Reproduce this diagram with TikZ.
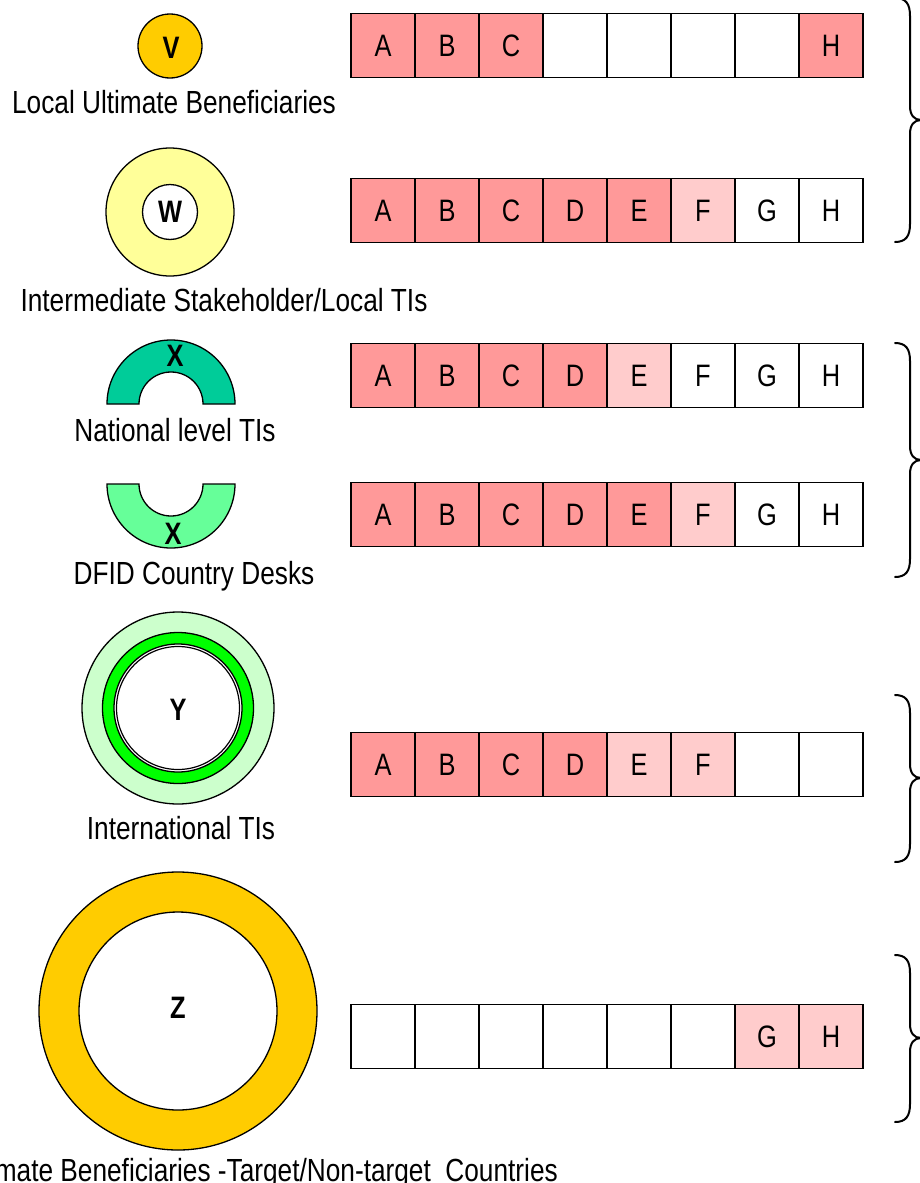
\documentclass[tikz,border=0pt]{standalone}
\usepackage{fontspec}
\setmainfont{Liberation Sans}[FakeStretch=0.82]
\definecolor{cd}{HTML}{FF9999}
\definecolor{cl}{HTML}{FFCCCC}
\definecolor{cw}{HTML}{FFFFFF}
\definecolor{gold}{HTML}{FFCC00}
\definecolor{lyellow}{HTML}{FFFF99}
\definecolor{teal}{HTML}{00CC99}
\definecolor{mint}{HTML}{66FF99}
\definecolor{lgreen}{HTML}{CCFFCC}
\definecolor{bgreen}{HTML}{00FF00}
\newcommand\mybrace[3]{%
  \draw[brc] (895,#1) .. controls (906,#1) and (910,#1+6) .. (910,#1+18)
    -- (910,#2-14) .. controls (910,#2-5) and (914,#2) .. (921,#2)
    .. controls (914,#2) and (910,#2+5) .. (910,#2+14)
    -- (910,#3-18) .. controls (910,#3-6) and (906,#3) .. (895,#3);}
\begin{document}
\begin{tikzpicture}[x=1pt,y=-1pt,
  cell/.style={draw=black, line width=1.6pt, minimum width=64pt, minimum height=64pt, inner sep=0pt, font=\fontsize{31}{36}\selectfont},
  lbl/.style={inner sep=0pt, anchor=base, font=\fontsize{32}{38}\selectfont},
  big/.style={inner sep=0pt, font=\fontsize{31}{36}\selectfont\bfseries},
  ring/.style={draw=black, line width=1.3pt},
  brc/.style={draw=black, line width=2pt, line cap=round}]
\useasboundingbox (0,0) rectangle (920,1183);
\clip (0,0) rectangle (920,1183);

% ---- rows of cells ----
\foreach \f/\t [count=\i] in {d/A,d/B,d/C,w/{},w/{},w/{},w/{},d/H}
  \node[cell, fill=c\f] (r1c\i) at (319+64*\i, 45.5) {\t};
\foreach \f/\t [count=\i] in {d/A,d/B,d/C,d/D,d/E,l/F,w/G,w/H}
  \node[cell, fill=c\f] (r2c\i) at (319+64*\i, 210.5) {\t};
\foreach \f/\t [count=\i] in {d/A,d/B,d/C,d/D,l/E,w/F,w/G,w/H}
  \node[cell, fill=c\f] (r3c\i) at (319+64*\i, 375.5) {\t};
\foreach \f/\t [count=\i] in {d/A,d/B,d/C,d/D,d/E,l/F,w/G,w/H}
  \node[cell, fill=c\f] (r4c\i) at (319+64*\i, 514.5) {\t};
\foreach \f/\t [count=\i] in {d/A,d/B,d/C,d/D,l/E,l/F,w/{},w/{}}
  \node[cell, fill=c\f] (r5c\i) at (319+64*\i, 764.5) {\t};
\foreach \f/\t [count=\i] in {w/{},w/{},w/{},w/{},w/{},w/{},l/G,l/H}
  \node[cell, fill=c\f] (r6c\i) at (319+64*\i, 1036.5) {\t};

% ---- braces ----
\mybrace{-2}{120}{242}
\mybrace{343}{460}{577}
\mybrace{695}{778}{862}
\mybrace{955}{1038}{1122}

% ---- V ----
\node[circle, ring, fill=gold, minimum size=64pt] (V) at (170,46) {};
\node[big] (Vt) at (171,48) {V};
\node[lbl] (lv) at (174,113) {Local Ultimate Beneficiaries};

% ---- W ----
\node[circle, ring, fill=lyellow, minimum size=128pt] (Wo) at (170,212) {};
\node[circle, ring, fill=white, minimum size=55pt] (W) at (170,212) {};
\node[big] (Wt) at (W.center) {W};
\node[lbl] (lw) at (224,311) {Intermediate Stakeholder/Local TIs};

% ---- X national (upper half ring) ----
\draw[ring, fill=teal] (107,404) arc[start angle=180, end angle=360, radius=64]
  -- (203,404) arc[start angle=0, end angle=-180, radius=32] -- cycle;
\node[big] (X1) at (175,356) {X};
\node[lbl] (lx1) at (175,441) {National level TIs};

% ---- X DFID (lower half ring) ----
\draw[ring, fill=mint] (107,484) arc[start angle=180, end angle=0, radius=64]
  -- (203,484) arc[start angle=0, end angle=180, radius=32] -- cycle;
\node[big] (X2) at (173,534) {X};
\node[lbl] (lx2) at (194,584) {DFID Country Desks};

% ---- Y ----
\draw[ring, fill=lgreen] (178,708) circle (96);
\draw[ring, fill=bgreen] (178,708) circle (75.5);
\draw[ring, fill=white] (178,708) circle (64);
\draw[draw=black, line width=1.2pt] (178,708) circle (61.5);
\node[big] (Y) at (178,710) {Y};
\node[lbl] (ly) at (181,839) {International TIs};

% ---- Z ----
\draw[ring, fill=gold] (178,1011) circle (139);
\draw[ring, fill=white] (178,1011) circle (99);
\node[big] (Z) at (178,1008) {Z};
\node[lbl, anchor=base east] (lz) at (558,1181) {Ultimate Beneficiaries -Target/Non-target\ \ Countries};
\end{tikzpicture}
\end{document}
